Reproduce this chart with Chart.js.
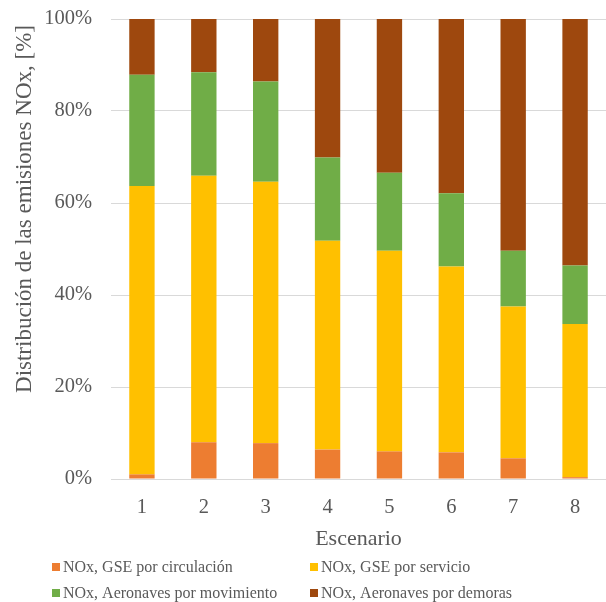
<!DOCTYPE html>
<html>
<head>
<meta charset="utf-8">
<script src="https://cdn.jsdelivr.net/npm/chart.js@4/dist/chart.umd.min.js"></script>
<style>
  html, body { margin: 0; padding: 0; background: #fff; }
  #wrap { width: 606px; height: 602px; }
</style>
</head>
<body>
<div id="wrap"><canvas id="c" width="606" height="602"></canvas></div>
<script>
// Scenario labels on the x axis
const escenarios = ['1', '2', '3', '4', '5', '6', '7', '8'];

// Share of NOx emissions per source, in percent of the scenario total
const gseCirculacion = [1.0, 8.0, 7.8, 6.4, 6.0, 5.8, 4.5, 0.4];
const gseServicio = [62.7, 57.9, 56.8, 45.4, 43.6, 40.4, 33.0, 33.3];
const aeronavesMovimiento = [24.2, 22.5, 21.8, 18.1, 17.0, 15.9, 12.1, 12.7];
const aeronavesDemoras = [12.1, 11.6, 13.6, 30.1, 33.4, 37.9, 50.4, 53.6];

// Y axis tick values (percent)
const yTicks = [0, 20, 40, 60, 80, 100];

const yTitle = 'Distribución de las emisiones NOx, [%]';

const serif = "'Liberation Serif', 'Times New Roman', serif";
const textColor = '#595959';

const series = [
  { label: 'NOx, GSE por circulación', data: gseCirculacion, color: '#ED7D31' },
  { label: 'NOx, GSE por servicio', data: gseServicio, color: '#FFC000' },
  { label: 'NOx, Aeronaves por movimiento', data: aeronavesMovimiento, color: '#70AD47' },
  { label: 'NOx, Aeronaves por demoras', data: aeronavesDemoras, color: '#9E480E' }
];

// Vertical y-axis title and a two-column legend beneath the chart
const extras = {
  id: 'extras',
  afterDraw(chart) {
    const ctx = chart.ctx;
    ctx.save();
    ctx.fillStyle = textColor;
    ctx.font = '23px ' + serif;
    ctx.textAlign = 'center';
    ctx.textBaseline = 'middle';
    ctx.translate(25, 209);
    ctx.rotate(-Math.PI / 2);
    ctx.fillText(yTitle, 0, 0);
    ctx.restore();

    const cols = [52, 310];
    const rows = [567, 593];
    ctx.save();
    ctx.font = '16px ' + serif;
    ctx.textBaseline = 'middle';
    ctx.textAlign = 'left';
    chart.data.datasets.forEach((ds, i) => {
      const x = cols[i % 2];
      const y = rows[Math.floor(i / 2)];
      ctx.fillStyle = ds.backgroundColor;
      ctx.fillRect(x, y - 4, 8, 8);
      ctx.fillStyle = textColor;
      ctx.fillText(ds.label, x + 11, y + 1);
    });
    ctx.restore();
  }
};

new Chart(document.getElementById('c'), {
  type: 'bar',
  data: {
    labels: escenarios,
    datasets: series.map(s => ({
      label: s.label,
      data: s.data,
      backgroundColor: s.color,
      borderWidth: 0,
      categoryPercentage: 1.0,
      barPercentage: 0.41
    }))
  },
  options: {
    responsive: false,
    animation: false,
    layout: { padding: { top: 19, right: 0, left: 0, bottom: 50 } },
    plugins: {
      legend: { display: false },
      tooltip: { enabled: false }
    },
    scales: {
      x: {
        stacked: true,
        grid: { display: false, drawTicks: false },
        border: { display: true, color: '#D9D9D9', width: 1 },
        ticks: {
          color: textColor,
          font: { family: serif, size: 20.5 },
          padding: 16
        },
        title: {
          display: true,
          text: 'Escenario',
          color: textColor,
          font: { family: serif, size: 22 },
          padding: { top: 0, bottom: 0 }
        },
        afterFit(scale) {
          scale.height = 73;
          scale.paddingLeft = 0;
          scale.paddingRight = 0;
        }
      },
      y: {
        stacked: true,
        min: 0,
        max: 100,
        afterBuildTicks(scale) { scale.ticks = yTicks.map(v => ({ value: v })); },
        grid: { color: '#D9D9D9', lineWidth: 1, drawTicks: false },
        border: { display: false },
        ticks: {
          color: textColor,
          font: { family: serif, size: 20.5 },
          padding: 19,
          callback: v => v + '%'
        },
        afterFit(scale) {
          scale.width = 111;
          scale.paddingTop = 0;
          scale.paddingBottom = 0;
        }
      }
    }
  },
  plugins: [extras]
});
</script>
</body>
</html>
